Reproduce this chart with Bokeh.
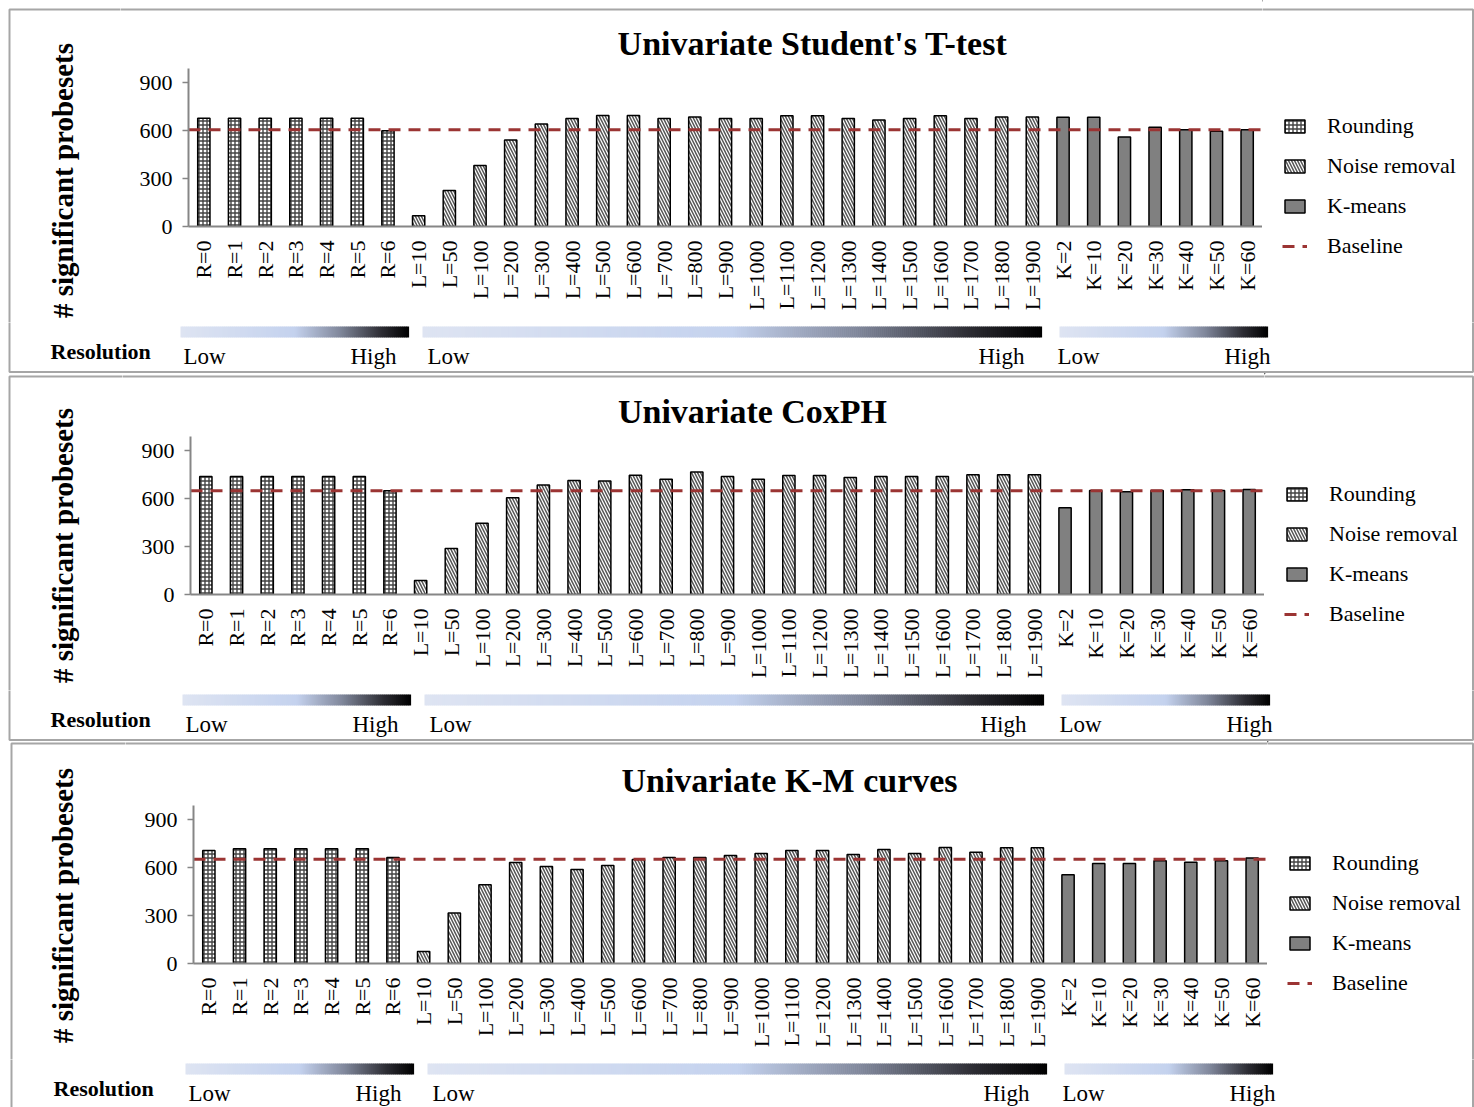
import numpy as np
from bokeh.plotting import figure
from bokeh.models import Range1d, FixedTicker, Legend, LegendItem
from bokeh.core.properties import value
from bokeh.layouts import column, row
from bokeh.embed import file_html
from bokeh.resources import INLINE

# ---------------- data ----------------
round_labels = ["R=0", "R=1", "R=2", "R=3", "R=4", "R=5", "R=6"]
noise_labels = ["L=10", "L=50", "L=100", "L=200", "L=300", "L=400", "L=500", "L=600",
                "L=700", "L=800", "L=900", "L=1000", "L=1100", "L=1200", "L=1300",
                "L=1400", "L=1500", "L=1600", "L=1700", "L=1800", "L=1900"]
kmeans_labels = ["K=2", "K=10", "K=20", "K=30", "K=40", "K=50", "K=60"]
y_ticks = [0, 300, 600, 900]

titles = ["Univariate Student's T-test", "Univariate CoxPH", "Univariate K-M curves"]
y_title = "# significant probesets"
legend_labels = ["Rounding", "Noise removal", "K-means", "Baseline"]

ttest_round = [677, 677, 677, 677, 677, 677, 598]
ttest_noise = [67, 225, 381, 540, 640, 675, 694, 694, 675, 685, 675, 675, 692, 692,
               675, 665, 675, 692, 675, 685, 685]
ttest_kmeans = [683, 683, 560, 621, 604, 596, 604]
ttest_baseline = 605

cox_round = [737, 737, 737, 737, 737, 737, 648]
cox_noise = [87, 287, 446, 604, 685, 712, 710, 746, 721, 765, 737, 721, 744, 744,
             731, 737, 737, 737, 748, 748, 748]
cox_kmeans = [542, 650, 642, 650, 654, 650, 656]
cox_baseline = 648

km_round = [706, 717, 717, 717, 717, 717, 662]
km_noise = [75, 315, 492, 631, 606, 587, 612, 650, 662, 662, 675, 687, 706, 706,
            681, 712, 687, 725, 696, 723, 723]
km_kmeans = [554, 625, 625, 642, 633, 642, 660]
km_baseline = 652

# ---------------- styling ----------------
FONT = "Liberation Serif"
PAGE_W = 1474
FRAME_W, FRAME_H = 1074, 164
LEFT_AXIS_W = 68
MID_H = 260
BOTTOM_AXIS_H = MID_H - FRAME_H
Y_TOP = 1025          # value shown at top of frame
Y_AXIS_END = 990
AXIS_GRAY = "#868686"
BASE_COLOR = "#9b3433"
BORDER = "#a6a6a6"

grad_stops = [(0.0, (222, 228, 242)), (0.5, (196, 210, 238)), (0.7, (128, 135, 155)),
              (0.88, (45, 45, 52)), (1.0, (0, 0, 0))]


def grad_color(t):
    for (t0, c0), (t1, c1) in zip(grad_stops[:-1], grad_stops[1:]):
        if t <= t1:
            f = (t - t0) / (t1 - t0)
            return "#%02x%02x%02x" % tuple(round(a + (b - a) * f) for a, b in zip(c0, c1))
    return "#000000"


def blank_fig(x0, x1, y0, y1):
    """Figure whose frame is the whole canvas; data coords = page px (y negated)."""
    f = figure(width=int(x1 - x0), height=int(y1 - y0), x_range=Range1d(x0, x1),
               y_range=Range1d(-y1, -y0), output_backend="svg", toolbar_location=None,
               title=None, x_axis_location=None, y_axis_location=None, min_border=0)
    f.grid.visible = False
    f.outline_line_color = None
    return f


def txt(f, x, y, s, size, align="left", bold=False, angle=0.0):
    f.text(x=[x], y=[-y], text=[s], text_font=value(FONT), text_font_size=value(size),
           text_font_style="bold" if bold else "normal", text_align=align,
           text_baseline="middle", angle=angle, text_color="black")


def box(f, b):
    bx0, bx1, by0, by1 = b
    f.quad(left=[bx0], right=[bx1], top=[-by0], bottom=[-by1], fill_color=None,
           line_color=BORDER, line_width=2)


BAR_STYLES = [
    dict(fill_color="white", line_color="black", line_width=1.5, hatch_pattern="+",
         hatch_color="#444444", hatch_scale=4, hatch_weight=1.4),
    dict(fill_color="white", line_color="black", line_width=1.5, hatch_pattern="\\",
         hatch_color="#555555", hatch_scale=6, hatch_weight=1.5),
    dict(fill_color="#808080", line_color="black", line_width=1.5),
]
LINE_STYLE = dict(line_color=BASE_COLOR, line_width=3, line_dash="12 8")


def make_panel(title, r_vals, l_vals, k_vals, baseline, top, title_h, strip_h,
               axis_x, title_cx, ylab_dy, res_x, bbox):
    cats = round_labels + noise_labels + kmeans_labels
    n = len(cats)
    ylab_w = axis_x - LEFT_AXIS_W
    leg_x0 = axis_x + FRAME_W
    mid_top = top + title_h
    mid_bot = mid_top + MID_H
    zero_y = mid_top + FRAME_H
    bot = mid_bot + strip_h
    dx = axis_x - 188

    # ---- main chart ----
    m = figure(width=LEFT_AXIS_W + FRAME_W, height=MID_H, x_range=Range1d(-0.5, n - 0.5),
               y_range=Range1d(0, Y_TOP), output_backend="svg", toolbar_location=None,
               title=None, min_border_left=LEFT_AXIS_W, min_border_right=0,
               min_border_top=0, min_border_bottom=BOTTOM_AXIS_H)
    m.outline_line_color = None
    m.xgrid.visible = False
    m.ygrid.visible = False

    xa = m.xaxis[0]
    xa.ticker = FixedTicker(ticks=list(range(n)), minor_ticks=[])
    xa.major_label_overrides = {i: c for i, c in enumerate(cats)}
    xa.major_label_orientation = np.pi / 2
    xa.major_label_text_font = FONT
    xa.major_label_text_font_size = "22px"
    xa.major_label_text_color = "black"
    xa.major_tick_line_color = None
    xa.minor_tick_line_color = None
    xa.major_tick_out = 0
    xa.major_label_standoff = 14
    xa.axis_line_color = AXIS_GRAY
    xa.axis_line_width = 2

    ya = m.yaxis[0]
    ya.ticker = FixedTicker(ticks=y_ticks, minor_ticks=[])
    ya.major_label_text_font = FONT
    ya.major_label_text_font_size = "22px"
    ya.major_label_text_color = "black"
    ya.major_tick_line_color = AXIS_GRAY
    ya.major_tick_line_width = 1.5
    ya.major_tick_out = 6
    ya.major_tick_in = 0
    ya.minor_tick_line_color = None
    ya.major_label_standoff = 10
    ya.axis_line_color = AXIS_GRAY
    ya.axis_line_width = 2
    ya.bounds = (0, Y_AXIS_END)

    xr = list(range(len(r_vals)))
    xl = list(range(len(r_vals), len(r_vals) + len(l_vals)))
    xk = list(range(len(r_vals) + len(l_vals), n))
    m.vbar(x=xr, top=r_vals, width=0.4, **BAR_STYLES[0])
    m.vbar(x=xl, top=l_vals, width=0.4, **BAR_STYLES[1])
    m.vbar(x=xk, top=k_vals, width=0.4, **BAR_STYLES[2])
    m.line(x=[m.x_range.start, m.x_range.end], y=[baseline, baseline], **LINE_STYLE)

    # ---- legend column (spans title band + chart band) ----
    lf = blank_fig(leg_x0, PAGE_W, top, mid_bot)
    box(lf, bbox)
    # zero-size swatch renderers placed off-canvas, only used as legend keys
    lr = [lf.vbar(x=[0], top=[0], width=0.4, **st) for st in BAR_STYLES]
    lr.append(lf.line(x=[0, 0], y=[0, 0], **LINE_STYLE))
    leg = Legend(items=[LegendItem(label=lab, renderers=[r]) for lab, r in zip(legend_labels, lr)],
                 location=(20, 63), orientation="vertical", padding=0, margin=0,
                 spacing=14, glyph_width=25, glyph_height=16, label_height=20,
                 label_standoff=20, border_line_color=None, background_fill_alpha=0,
                 label_text_font=FONT, label_text_font_size="22px",
                 label_text_color="black")
    lf.add_layout(leg)

    # ---- title band ----
    tf = blank_fig(ylab_w, leg_x0, top, mid_top)
    box(tf, bbox)
    txt(tf, title_cx, zero_y - 183, title, "34px", align="center", bold=True)

    # ---- y-label column ----
    yf = blank_fig(0, ylab_w, top, mid_bot)
    box(yf, bbox)
    txt(yf, 62, zero_y + ylab_dy, y_title, "29px", align="center", bold=True, angle=np.pi / 2)

    # ---- resolution strip ----
    sf = blank_fig(0, PAGE_W, mid_bot, bot)
    box(sf, bbox)
    txt(sf, res_x, mid_bot + 29, "Resolution", "22px", bold=True)
    groups = [(180, 408), (422, 1041), (1059, 1267)]
    lows = [183, 427, 1057]
    highs = [396, 1024, 1270]
    for (g0, g1), lo, hi in zip(groups, lows, highs):
        g0 += dx
        g1 += dx
        ns = int((g1 - g0) / 2)
        edges = np.linspace(g0, g1, ns + 1)
        cols = [grad_color((i + 0.5) / ns) for i in range(ns)]
        sf.quad(left=edges[:-1], right=edges[1:] + 0.6, top=[-(mid_bot + 4)] * ns,
                bottom=[-(mid_bot + 15)] * ns, fill_color=cols, line_color=None)
        txt(sf, lo + dx, mid_bot + 34, "Low", "23px", align="left")
        txt(sf, hi + dx, mid_bot + 34, "High", "23px", align="right")

    # wrap the chart in its own row so the title band is not frame-aligned to it
    centre = column(tf, row(m, spacing=0), spacing=0)
    return column(row(yf, centre, lf, spacing=0), sf, spacing=0)


p1 = make_panel(titles[0], ttest_round, ttest_noise, ttest_kmeans, ttest_baseline,
                top=0, title_h=62, strip_h=51, axis_x=188, title_cx=812, ylab_dy=-46,
                res_x=50, bbox=(9, 1472.5, 9, 371.5))
p2 = make_panel(titles[1], cox_round, cox_noise, cox_kmeans, cox_baseline,
                top=373, title_h=57, strip_h=51, axis_x=190, title_cx=752, ylab_dy=-49,
                res_x=50, bbox=(9, 1472.5, 376, 739.5))
p3 = make_panel(titles[2], km_round, km_noise, km_kmeans, km_baseline,
                top=741, title_h=58, strip_h=48, axis_x=193, title_cx=789, ylab_dy=-58,
                res_x=53, bbox=(11, 1472.5, 743, 1120))

layout = column(p1, p2, p3, spacing=0)
open("out.html", "w").write(file_html(layout, INLINE))
